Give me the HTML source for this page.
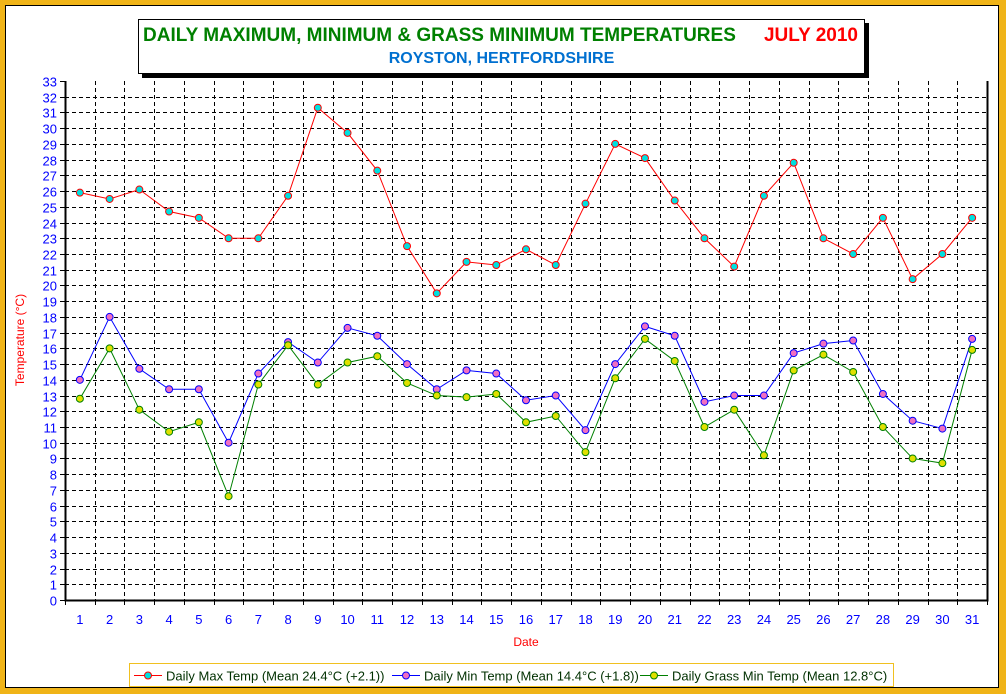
<!DOCTYPE html>
<html><head><meta charset="utf-8">
<style>
html,body{margin:0;padding:0;}
body{width:1006px;height:694px;background:#f0b418;position:relative;overflow:hidden;font-family:"Liberation Sans",sans-serif;}
#panel{position:absolute;left:5px;top:5px;width:994px;height:683px;background:#fff;border:1px solid #000;box-sizing:border-box;}
#titlebox{position:absolute;left:138px;top:19px;width:727px;height:55px;background:#fff;border:1px solid #000;box-sizing:border-box;box-shadow:4px 4px 0 #000;}
.t1{position:absolute;left:4px;top:5px;font-size:19px;font-weight:bold;color:#008000;white-space:nowrap;}
.t1r{position:absolute;right:6px;top:5px;font-size:19px;font-weight:bold;color:#ff0000;}
.t2{position:absolute;left:0;width:100%;top:30px;text-align:center;font-size:16px;font-weight:bold;color:#0070d0;}
#legend{position:absolute;left:129px;top:663px;width:765px;height:24px;border:1px solid #f0c020;box-sizing:border-box;background:#fff;}
svg{position:absolute;left:0;top:0;}
</style></head>
<body>
<div id="panel"></div>
<div id="titlebox">
<div class="t1">DAILY MAXIMUM, MINIMUM &amp; GRASS MINIMUM TEMPERATURES</div>
<div class="t1r">JULY 2010</div>
<div class="t2">ROYSTON, HERTFORDSHIRE</div>
</div>
<div id="legend"></div>
<svg id="chart" width="1006" height="694"></svg>
<script>
const days=[1,2,3,4,5,6,7,8,9,10,11,12,13,14,15,16,17,18,19,20,21,22,23,24,25,26,27,28,29,30,31];
const maxTemp=[25.9,25.5,26.1,24.7,24.3,23.0,23.0,25.7,31.3,29.7,27.3,22.5,19.5,21.5,21.3,22.3,21.3,25.2,29.0,28.1,25.4,23.0,21.2,25.7,27.8,23.0,22.0,24.3,20.4,22.0,24.3];
const minTemp=[14.0,18.0,14.7,13.4,13.4,10.0,14.4,16.4,15.1,17.3,16.8,15.0,13.4,14.6,14.4,12.7,13.0,10.8,15.0,17.4,16.8,12.6,13.0,13.0,15.7,16.3,16.5,13.1,11.4,10.9,16.6];
const grassTemp=[12.8,16.0,12.1,10.7,11.3,6.6,13.7,16.2,13.7,15.1,15.5,13.8,13.0,12.9,13.1,11.3,11.7,9.4,14.1,16.6,15.2,11.0,12.1,9.2,14.6,15.6,14.5,11.0,9.0,8.7,15.9];
const yTicks=[0,1,2,3,4,5,6,7,8,9,10,11,12,13,14,15,16,17,18,19,20,21,22,23,24,25,26,27,28,29,30,31,32,33];
const legendLabels=["Daily Max Temp (Mean 24.4°C (+2.1))","Daily Min Temp (Mean 14.4°C (+1.8))","Daily Grass Min Temp (Mean 12.8°C)"];

const NS="http://www.w3.org/2000/svg";
const svg=document.getElementById('chart');
const L=65,R=987,T=81,B=600,YMAX=33;
const step=(R-L)/days.length;
function xS(i){return L+step*(i+0.5);}
function yS(v){return B-(v/YMAX)*(B-T);}
function mk(tag,attrs,parent){const e=document.createElementNS(NS,tag);for(const k in attrs)e.setAttribute(k,attrs[k]);(parent||svg).appendChild(e);return e;}

const grid=mk('g',{});


yTicks.forEach(v=>{
  const y=Math.round(yS(v))+0.5;
  if(v>0&&v<YMAX){const l=mk('line',{x1:L,x2:R,y1:y,y2:y,stroke:'#000','stroke-width':1,'stroke-dasharray':'4,3'},grid);
  }
  const t=mk('line',{x1:L-5,x2:L,y1:y,y2:y,stroke:'#000'});
  
  const tx=mk('text',{x:L-8,y:y+5,'text-anchor':'end','font-size':13,fill:'#0000ff','font-family':'Liberation Sans, sans-serif'});
  tx.textContent=v;
  
});
for(let k=0;k<=days.length;k++){
  const x=Math.round(L+step*k)+0.5;
  if(k>0&&k<days.length){const l=mk('line',{x1:x,x2:x,y1:T,y2:B,stroke:'#000','stroke-dasharray':'4,3'},grid);
  }
  const t=mk('line',{x1:x,x2:x,y1:B,y2:B+5,stroke:'#000'});
  
}
days.forEach((d,i)=>{
  const tx=mk('text',{x:xS(i),y:B+24,'text-anchor':'middle','font-size':13,fill:'#0000ff','font-family':'Liberation Sans, sans-serif'});
  tx.textContent=d;
  
});
const ax=mk('path',{d:`M${L+0.5},${T} V${B+0.5} H${R+0.5} V${T}`,fill:'none',stroke:'#000','stroke-width':2});

const xt=mk('text',{x:526,y:646,'text-anchor':'middle','font-size':12,fill:'#ff0000','font-family':'Liberation Sans, sans-serif'});
xt.textContent='Date';

const yt=mk('text',{x:24,y:340,'text-anchor':'middle','font-size':12,fill:'#ff0000','font-family':'Liberation Sans, sans-serif',transform:'rotate(-90 24 340)'});
yt.textContent='Temperature (°C)';


const series=[
 {vals:maxTemp,line:'#ff0000',fill:'#00e0e0',edge:'#ff0000',name:'max-temp'},
 {vals:minTemp,line:'#0000ff',fill:'#f070c0',edge:'#0000ff',name:'min-temp'},
 {vals:grassTemp,line:'#008000',fill:'#e0e000',edge:'#008000',name:'grass-min-temp'}];
series.forEach(s=>{
  const g=mk('g',{});
  
  const pl=mk('polyline',{points:s.vals.map((v,i)=>xS(i)+','+yS(v)).join(' '),fill:'none',stroke:s.line,'stroke-width':1},g);
  
  s.vals.forEach((v,i)=>{
    const c=mk('circle',{cx:xS(i),cy:yS(v),r:3.5,fill:s.fill,stroke:s.edge,'stroke-width':1},g);
    
  });
});
const lx=[134,392,640];
series.forEach((s,i)=>{
  const y=675.5;
  const l=mk('line',{x1:lx[i],x2:lx[i]+28,y1:y,y2:y,stroke:s.line});
  
  const c=mk('circle',{cx:lx[i]+14,cy:y,r:3.5,fill:s.fill,stroke:s.edge});
  
  const t=mk('text',{x:lx[i]+32,y:y+5,'font-size':13,fill:'#003000','font-family':'Liberation Sans, sans-serif'});
  t.textContent=legendLabels[i];
  
});
</script>
</body></html>
